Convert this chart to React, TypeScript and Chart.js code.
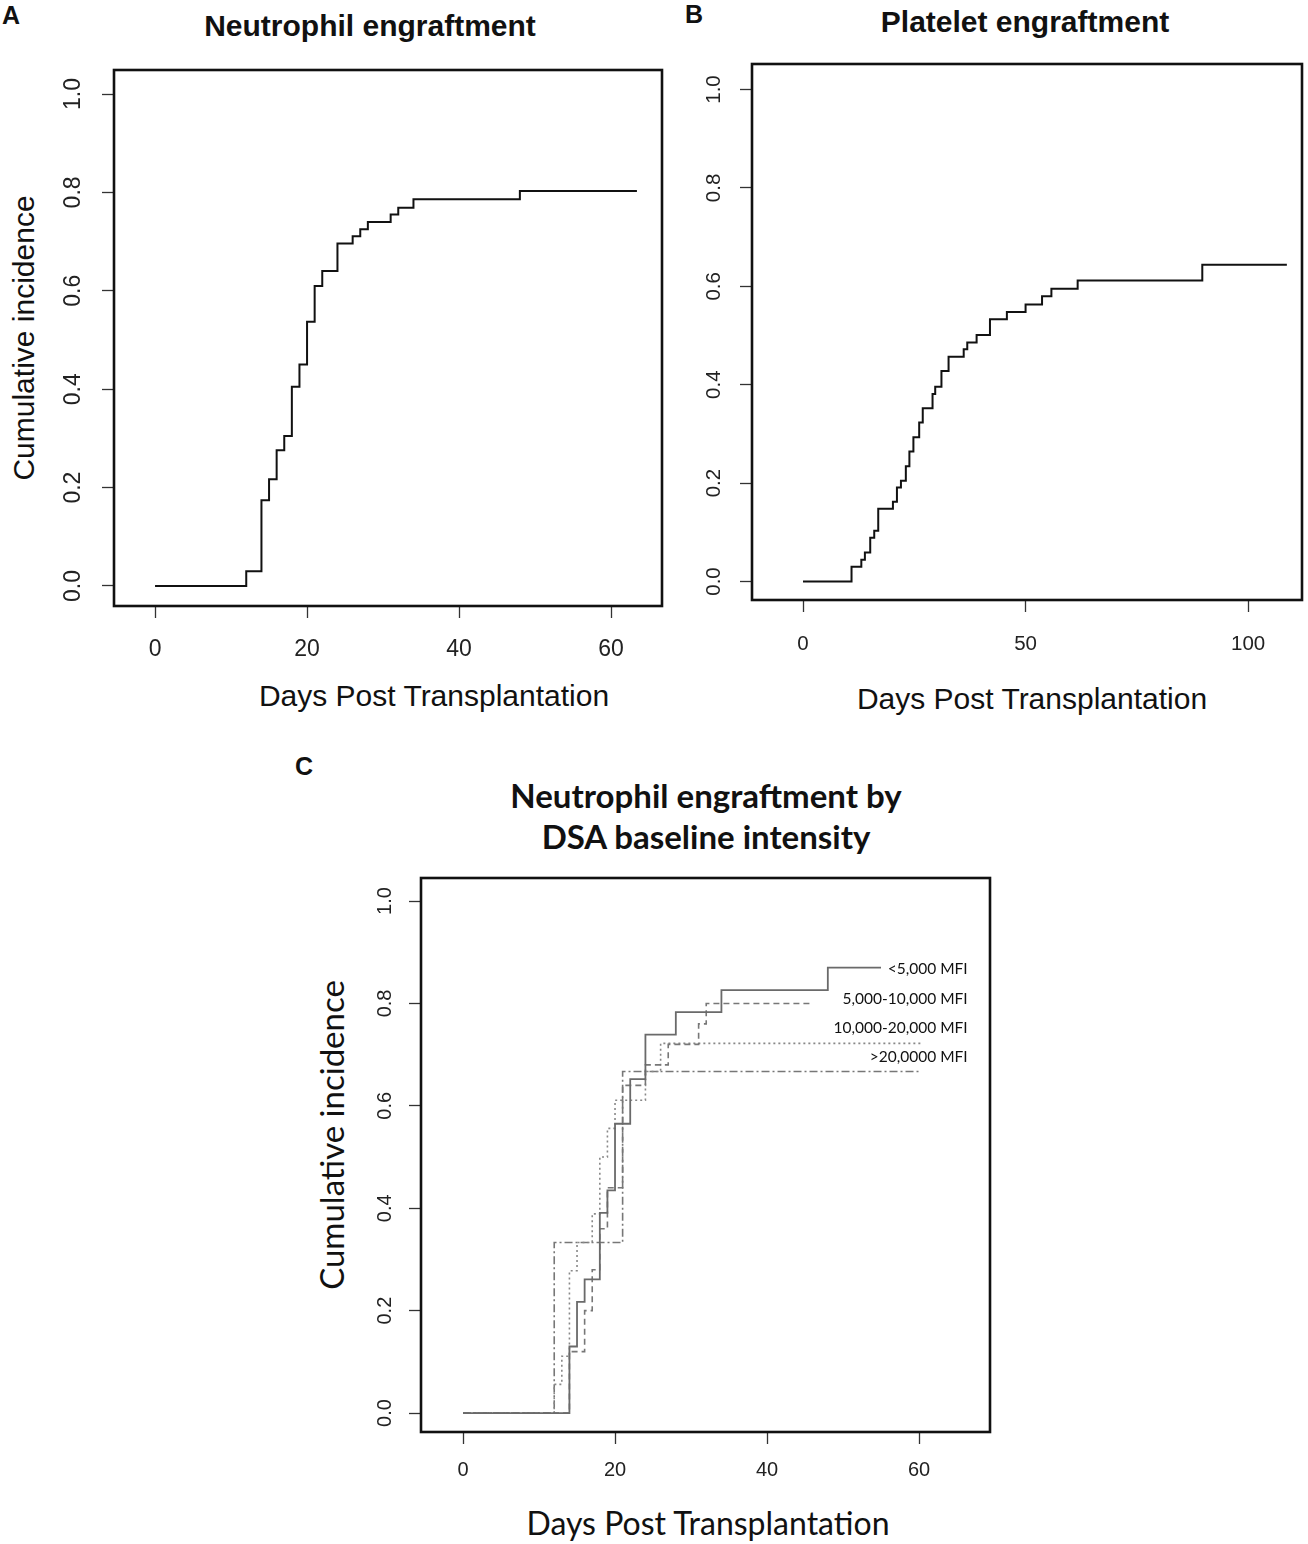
import { useEffect, useRef } from "react"
import { Chart, registerables, type ChartConfiguration, type Plugin } from "chart.js"

Chart.register(...registerables)

// A: neutrophil engraftment (days, cumulative incidence)
const neutroDays = [0, 12, 14, 15, 16, 17, 18, 19, 20, 21, 22, 24, 26, 27, 28, 31, 32, 34, 48, 63.4]
const neutroCI = [0, 0.03, 0.174, 0.217, 0.276, 0.305, 0.405, 0.45, 0.537, 0.61, 0.64, 0.696, 0.711, 0.725, 0.74, 0.755, 0.769, 0.786, 0.803, 0.803]

// B: platelet engraftment
const plateletDays = [0, 10.9, 13.1, 13.9, 15.1, 16, 16.9, 20.2, 21.1, 22, 23.1, 23.9, 24.8, 26.1, 26.9, 29.1, 29.7, 31.1, 32.7, 36.1, 36.9, 39, 42, 45.8, 50, 53.7, 55.8, 61.7, 89.7, 108.7]
const plateletCI = [0, 0.03, 0.044, 0.059, 0.089, 0.103, 0.148, 0.162, 0.191, 0.205, 0.234, 0.264, 0.293, 0.323, 0.352, 0.381, 0.396, 0.428, 0.457, 0.472, 0.486, 0.501, 0.533, 0.548, 0.563, 0.58, 0.595, 0.612, 0.644, 0.644]

// C: neutrophil engraftment by DSA baseline intensity
const dsaGroups = ["<5,000 MFI", "5,000-10,000 MFI", "10,000-20,000 MFI", ">20,0000 MFI"]
const lowDays = [0, 14, 15, 16, 18, 19, 20, 22, 24, 28, 34, 48, 55]
const lowCI = [0, 0.13, 0.217, 0.261, 0.391, 0.435, 0.565, 0.652, 0.739, 0.783, 0.826, 0.87, 0.87]
const midDays = [0, 14, 16, 17, 18, 19, 21, 24, 27, 31, 32, 46]
const midCI = [0, 0.12, 0.2, 0.28, 0.36, 0.44, 0.64, 0.68, 0.72, 0.76, 0.8, 0.8]
const highDays = [0, 12, 13, 14, 15, 17, 18, 19, 20, 24, 26, 60.3]
const highCI = [0, 0.056, 0.111, 0.278, 0.333, 0.389, 0.5, 0.556, 0.611, 0.667, 0.722, 0.722]
const topDays = [0, 12, 21, 60.3]
const topCI = [0, 0.333, 0.667, 0.667]
const groupLabelY = [0.867, 0.809, 0.752, 0.695]
const groupLabelX = 66.4

const xTicks60 = [0, 20, 40, 60]
const xTicks100 = [0, 50, 100]
const yTicks = [0, 0.2, 0.4, 0.6, 0.8, 1.0]

const ARIAL = "'Liberation Sans', Arial, sans-serif"
const CALIBRI = "Lato, 'Open Sans', sans-serif"

interface Series {
  days: number[]
  ci: number[]
  color: string
  width: number
  dash: number[]
}

interface Panel {
  left: number
  top: number
  width: number
  height: number
  area: { left: number; top: number; right: number; bottom: number }
  xMin: number
  xMax: number
  yMin: number
  yMax: number
  xTicks: number[]
  tickSize: number
  xPad: number
  yPad: number
  series: Series[]
  notes?: { text: string; x: number; y: number }[]
}

const boxPlugin: Plugin = {
  id: "box",
  afterDatasetsDraw(chart) {
    const { ctx, chartArea: a } = chart
    ctx.save()
    ctx.lineWidth = 2.6
    ctx.strokeStyle = "#111"
    ctx.strokeRect(a.left, a.top, a.right - a.left, a.bottom - a.top)
    ctx.restore()
  },
}

const notesPlugin: Plugin = {
  id: "notes",
  afterDatasetsDraw(chart, _args, opts: any) {
    const notes = opts?.items as { text: string; x: number; y: number }[] | undefined
    if (!notes) return
    const { ctx } = chart
    const xs = chart.scales.x
    const ys = chart.scales.y
    ctx.save()
    ctx.font = `15.5px ${CALIBRI}`
    ctx.fillStyle = "#111"
    ctx.textAlign = "right"
    ctx.textBaseline = "middle"
    notes.forEach((n) => ctx.fillText(n.text, xs.getPixelForValue(n.x), ys.getPixelForValue(n.y)))
    ctx.restore()
  },
}

function StepChart({ p }: { p: Panel }) {
  const ref = useRef<HTMLCanvasElement>(null)

  useEffect(() => {
    if (!ref.current) return
    const grid = {
      drawOnChartArea: false,
      drawTicks: true,
      tickLength: 12,
      tickWidth: 1.3,
      tickColor: "#333",
    }
    const config: ChartConfiguration<"line"> = {
      type: "line",
      data: {
        datasets: p.series.map((s) => ({
          data: s.days.map((d, i) => ({ x: d, y: s.ci[i] })),
          stepped: true,
          borderColor: s.color,
          borderWidth: s.width,
          borderDash: s.dash,
          pointRadius: 0,
          fill: false,
        })),
      },
      options: {
        responsive: false,
        animation: false,
        events: [],
        layout: { padding: { top: p.area.top, right: p.width - p.area.right, left: 0, bottom: 0 } },
        scales: {
          x: {
            type: "linear",
            min: p.xMin,
            max: p.xMax,
            afterBuildTicks: (s) => {
              s.ticks = p.xTicks.map((v) => ({ value: v }))
            },
            afterFit: (s) => {
              s.height = p.height - p.area.bottom
              s.paddingLeft = 0
              s.paddingRight = 0
            },
            grid,
            border: { display: false },
            ticks: {
              padding: p.xPad,
              maxRotation: 0,
              minRotation: 0,
              color: "#222",
              font: { family: ARIAL, size: p.tickSize },
              callback: (v) => String(v),
            },
          },
          y: {
            type: "linear",
            min: p.yMin,
            max: p.yMax,
            afterBuildTicks: (s) => {
              s.ticks = yTicks.map((v) => ({ value: v }))
            },
            afterFit: (s) => {
              s.width = p.area.left
              s.paddingTop = 0
              s.paddingBottom = 0
            },
            grid,
            border: { display: false },
            ticks: {
              padding: p.yPad,
              minRotation: 90,
              maxRotation: 90,
              crossAlign: "center",
              color: "#222",
              font: { family: ARIAL, size: p.tickSize },
              callback: (v) => Number(v).toFixed(1),
            },
          },
        },
        plugins: {
          legend: { display: false },
          tooltip: { enabled: false },
          // @ts-ignore custom plugin options
          notes: { items: p.notes },
        },
      },
      plugins: [boxPlugin, notesPlugin],
    }
    const chart = new Chart(ref.current, config)
    return () => chart.destroy()
  }, [p])

  return (
    <canvas
      ref={ref}
      width={p.width}
      height={p.height}
      style={{ position: "absolute", left: p.left, top: p.top, width: p.width, height: p.height }}
    />
  )
}

const panelA: Panel = {
  left: 40,
  top: 55,
  width: 640,
  height: 620,
  area: { left: 74, top: 15, right: 622, bottom: 551 },
  xMin: -5.4,
  xMax: 66.7,
  yMin: -0.0407,
  yMax: 1.0488,
  xTicks: xTicks60,
  tickSize: 23,
  xPad: 18,
  yPad: 12,
  series: [{ days: neutroDays, ci: neutroCI, color: "#111", width: 2, dash: [] }],
}

const panelB: Panel = {
  left: 690,
  top: 50,
  width: 618,
  height: 620,
  area: { left: 62, top: 14, right: 612, bottom: 550 },
  xMin: -11.46,
  xMax: 112.1,
  yMin: -0.0376,
  yMax: 1.0518,
  xTicks: xTicks100,
  tickSize: 20.5,
  xPad: 20,
  yPad: 11,
  series: [{ days: plateletDays, ci: plateletCI, color: "#111", width: 2, dash: [] }],
}

const grey = "#6a6a6a"
const panelC: Panel = {
  left: 350,
  top: 860,
  width: 660,
  height: 640,
  area: { left: 71, top: 18, right: 640, bottom: 572 },
  xMin: -5.53,
  xMax: 69.34,
  yMin: -0.037,
  yMax: 1.045,
  xTicks: xTicks60,
  tickSize: 20,
  xPad: 14,
  yPad: 10,
  series: [
    { days: lowDays, ci: lowCI, color: grey, width: 1.8, dash: [] },
    { days: midDays, ci: midCI, color: "#777", width: 1.6, dash: [6, 4] },
    { days: highDays, ci: highCI, color: "#888", width: 1.6, dash: [2, 3] },
    { days: topDays, ci: topCI, color: "#777", width: 1.6, dash: [8, 3, 2, 3] },
  ],
  notes: dsaGroups.map((g, i) => ({ text: g, x: groupLabelX, y: groupLabelY[i] })),
}

function Label({
  text,
  cx,
  cy,
  size,
  bold,
  family = ARIAL,
  rotate,
}: {
  text: string
  cx: number
  cy: number
  size: number
  bold?: boolean
  family?: string
  rotate?: boolean
}) {
  return (
    <div
      style={{
        position: "absolute",
        left: cx,
        top: cy,
        transform: `translate(-50%, -50%)${rotate ? " rotate(-90deg)" : ""}`,
        whiteSpace: "nowrap",
        lineHeight: 1,
        fontFamily: family,
        fontSize: size,
        fontWeight: bold ? 700 : 400,
        color: "#111",
      }}
    >
      {text}
    </div>
  )
}

export default function App() {
  return (
    <div style={{ position: "absolute", left: 0, top: 0, width: 1308, height: 1544, background: "#fff", overflow: "hidden" }}>
      <Label text="A" cx={11} cy={15} size={25} bold />
      <Label text="Neutrophil engraftment" cx={370} cy={26} size={30} bold />
      <Label text="Cumulative incidence" cx={24} cy={338} size={30} rotate />
      <Label text="Days Post Transplantation" cx={434} cy={696} size={30} />
      <StepChart p={panelA} />

      <Label text="B" cx={694} cy={14} size={25} bold />
      <Label text="Platelet engraftment" cx={1025} cy={22} size={30} bold />
      <Label text="Days Post Transplantation" cx={1032} cy={699} size={30} />
      <StepChart p={panelB} />

      <Label text="C" cx={304} cy={766} size={25} bold />
      <Label text="Neutrophil engraftment by" cx={706} cy={795} size={33} bold family={CALIBRI} />
      <Label text="DSA baseline intensity" cx={706} cy={836} size={33} bold family={CALIBRI} />
      <Label text="Cumulative incidence" cx={331} cy={1135} size={33} family={CALIBRI} rotate />
      <Label text="Days Post Transplantation" cx={708} cy={1523} size={32} family={CALIBRI} />
      <StepChart p={panelC} />
    </div>
  )
}
